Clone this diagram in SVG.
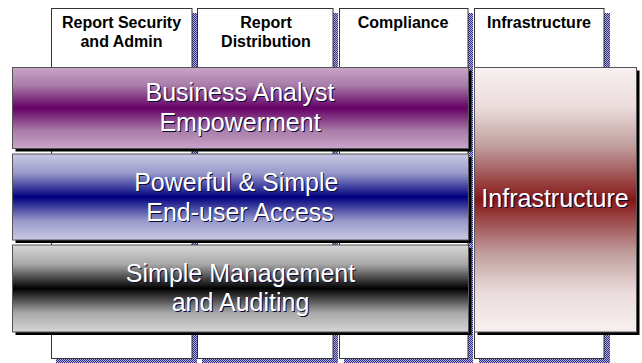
<svg xmlns="http://www.w3.org/2000/svg" width="642" height="363" viewBox="0 0 642 363">
<style>
.col{fill:#ffffff;stroke:#333333;stroke-width:1}
.colsh{fill:url(#checker)}
.band{stroke:#555555;stroke-width:1}
.bsh{fill:#000000}
.hdr{font-family:"Liberation Sans",Arial,sans-serif;font-size:16px;font-weight:bold;fill:#000000;text-anchor:middle}
.bt{font-family:"Liberation Sans",Arial,sans-serif;font-size:25px;fill:#ffffff;text-anchor:middle}
.bts{font-family:"Liberation Sans",Arial,sans-serif;font-size:25px;fill:#0a0a3a;text-anchor:middle}
</style>
<defs>
<pattern id="checker" width="2" height="2" patternUnits="userSpaceOnUse">
<rect width="2" height="2" fill="#b0b0e0"/>
<rect width="1" height="1" fill="#30308a"/>
<rect x="1" y="1" width="1" height="1" fill="#30308a"/>
</pattern>
<linearGradient id="gPurple" x1="0" y1="0" x2="0" y2="1">
<stop offset="0" stop-color="#caa4ca"/>
<stop offset="0.22" stop-color="#a87ca8"/>
<stop offset="0.5" stop-color="#660066"/>
<stop offset="0.78" stop-color="#a87ca8"/>
<stop offset="1" stop-color="#caa4ca"/>
</linearGradient>
<linearGradient id="gBlue" x1="0" y1="0" x2="0" y2="1">
<stop offset="0" stop-color="#c9c9e5"/>
<stop offset="0.22" stop-color="#9a9acc"/>
<stop offset="0.5" stop-color="#000080"/>
<stop offset="0.78" stop-color="#9a9acc"/>
<stop offset="1" stop-color="#c9c9e5"/>
</linearGradient>
<linearGradient id="gGray" x1="0" y1="0" x2="0" y2="1">
<stop offset="0" stop-color="#d6d6d6"/>
<stop offset="0.22" stop-color="#a8a8a8"/>
<stop offset="0.5" stop-color="#000000"/>
<stop offset="0.78" stop-color="#a8a8a8"/>
<stop offset="1" stop-color="#d6d6d6"/>
</linearGradient>
<linearGradient id="gRed" x1="0" y1="0" x2="0" y2="1">
<stop offset="0" stop-color="#f8f0f0"/>
<stop offset="0.15" stop-color="#ebdcdc"/>
<stop offset="0.3" stop-color="#c09c9c"/>
<stop offset="0.5" stop-color="#861616"/>
<stop offset="0.7" stop-color="#c09c9c"/>
<stop offset="0.85" stop-color="#ebdcdc"/>
<stop offset="1" stop-color="#f8f0f0"/>
</linearGradient>
</defs>
<rect width="642" height="363" fill="#ffffff"/>

<g id="col-security">
<rect class="colsh" x="56" y="13" width="141" height="350.5"/>
<rect class="col" x="51.5" y="8.5" width="140.5" height="350"/>
<text class="hdr" x="121.5" y="28.3">Report Security</text>
<text class="hdr" x="121.5" y="46.5">and Admin</text>
</g>
<g id="col-distribution">
<rect class="colsh" x="202" y="13" width="136" height="350.5"/>
<rect class="col" x="197.5" y="8.5" width="135.5" height="350"/>
<text class="hdr" x="266" y="28.3">Report</text>
<text class="hdr" x="266" y="46.5">Distribution</text>
</g>
<g id="col-compliance">
<rect class="colsh" x="344" y="13" width="129" height="350.5"/>
<rect class="col" x="339.5" y="8.5" width="128.5" height="350"/>
<text class="hdr" x="403" y="27.5">Compliance</text>
</g>
<g id="col-infrastructure">
<rect class="colsh" x="479" y="13" width="131" height="350.5"/>
<rect class="col" x="474.5" y="8.5" width="129.5" height="350"/>
<text class="hdr" x="539" y="27.5">Infrastructure</text>
</g>

<g id="band-business">
<rect class="bsh" x="15.5" y="70.5" width="456" height="81"/>
<rect class="band" x="12.5" y="67.5" width="456" height="81" fill="url(#gPurple)"/>
<text class="bts" x="241" y="101.7">Business Analyst</text>
<text class="bt" x="240" y="100.7">Business Analyst</text>
<text class="bts" x="241" y="131.7">Empowerment</text>
<text class="bt" x="240" y="130.7">Empowerment</text>
</g>
<g id="band-access">
<rect class="bsh" x="15.5" y="157" width="456" height="86"/>
<rect class="band" x="12.5" y="154" width="456" height="86" fill="url(#gBlue)"/>
<text class="bts" x="237.3" y="191.7">Powerful &amp; Simple</text>
<text class="bt" x="236.3" y="190.7">Powerful &amp; Simple</text>
<text class="bts" x="241" y="221.7">End-user Access</text>
<text class="bt" x="240" y="220.7">End-user Access</text>
</g>
<g id="band-management">
<rect class="bsh" x="15.5" y="248" width="456" height="87"/>
<rect class="band" x="12.5" y="245" width="456" height="87" fill="url(#gGray)"/>
<text class="bts" x="241.5" y="283.3">Simple Management</text>
<text class="bt" x="240.5" y="282.3">Simple Management</text>
<text class="bts" x="241.5" y="311.7">and Auditing</text>
<text class="bt" x="240.5" y="310.7">and Auditing</text>
</g>
<g id="box-infrastructure">
<rect class="bsh" x="477.5" y="70.5" width="162" height="264.5"/>
<rect class="band" x="474.5" y="67.5" width="162" height="264.5" fill="url(#gRed)"/>
<text class="bts" x="556" y="208.3">Infrastructure</text>
<text class="bt" x="555" y="207.3">Infrastructure</text>
</g>
<g id="connectors"/>
</svg>
